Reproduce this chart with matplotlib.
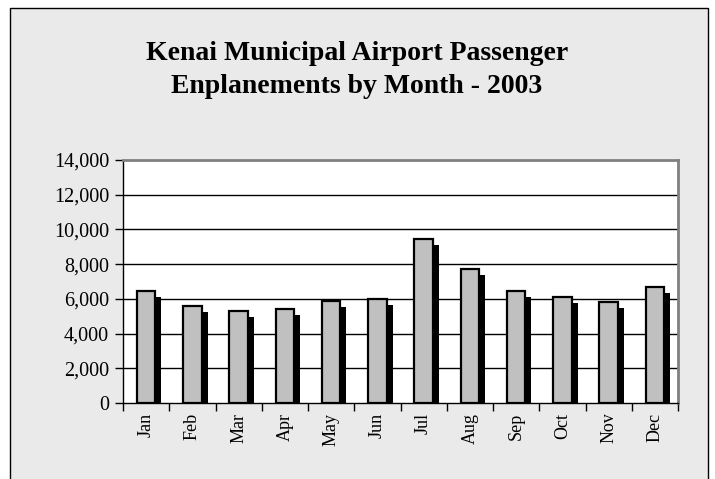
# Kenai Municipal Airport - embarques de passageiros por mes (2003)
import matplotlib.pyplot as plt
from matplotlib.patches import Rectangle
import matplotlib.transforms as mtransforms

meses = ['Jan', 'Feb', 'Mar', 'Apr', 'May', 'Jun',
         'Jul', 'Aug', 'Sep', 'Oct', 'Nov', 'Dec']
embarques = [6470, 5610, 5290, 5400, 5850, 6000,
             9470, 7740, 6430, 6110, 5830, 6700]
y_ticks = [0, 2000, 4000, 6000, 8000, 10000, 12000, 14000]

plt.rcParams['font.family'] = ['Liberation Serif', 'DejaVu Serif']

W, H = 715, 479
fig = plt.figure(figsize=(W / 100, H / 100), dpi=100)
fig.patch.set_facecolor('white')

# fundo cinza com borda preta (estilo Excel)
fundo = Rectangle((10 / W, -0.05), (708 - 10) / W, 1.05 - 8 / H,
                  transform=fig.transFigure, facecolor='#eaeaea',
                  edgecolor='black', linewidth=1, zorder=0)
fig.patches.append(fundo)

ax = fig.add_axes([123 / W, (H - 403) / H, (678 - 123) / W, (403 - 160) / H])
ax.set_zorder(2)
ax.set_facecolor('white')

x = list(range(len(meses)))

# sombra preta deslocada
sombra = mtransforms.offset_copy(ax.transData, fig=fig, x=6, y=-6, units='dots')
ax.bar(x, embarques, width=0.4, color='black', transform=sombra, zorder=2)
ax.bar(x, embarques, width=0.4, color='#c0c0c0', edgecolor='black',
       linewidth=1.6, zorder=3)

ax.set_xlim(-0.5, 11.5)
ax.set_ylim(0, 14000)
ax.set_yticks(y_ticks)
ax.set_yticklabels([f'{v:,}' for v in y_ticks], fontsize=14.5)
for v in y_ticks[1:-1]:
    ax.axhline(v, color='black', linewidth=1, zorder=1)

ax.set_xticks(x)
ax.set_xticklabels(meses, rotation=90, fontsize=13)
ax.tick_params(axis='x', which='major', length=0, pad=7)
ax.set_xticks([i - 0.5 for i in range(13)], minor=True)
ax.tick_params(axis='x', which='minor', length=6, width=1, direction='out')
ax.tick_params(axis='y', length=6, width=1, direction='out', pad=4)

for lado in ['top', 'right']:
    ax.spines[lado].set_color('#808080')
    ax.spines[lado].set_linewidth(2)
for lado in ['left', 'bottom']:
    ax.spines[lado].set_color('black')
    ax.spines[lado].set_linewidth(1)

fig.text(357 / W, 1 - 70 / H,
         'Kenai Municipal Airport Passenger\nEnplanements by Month - 2003',
         ha='center', va='center', fontsize=20, fontweight='bold',
         linespacing=1.45)

fig.savefig('out.png', dpi=100)
